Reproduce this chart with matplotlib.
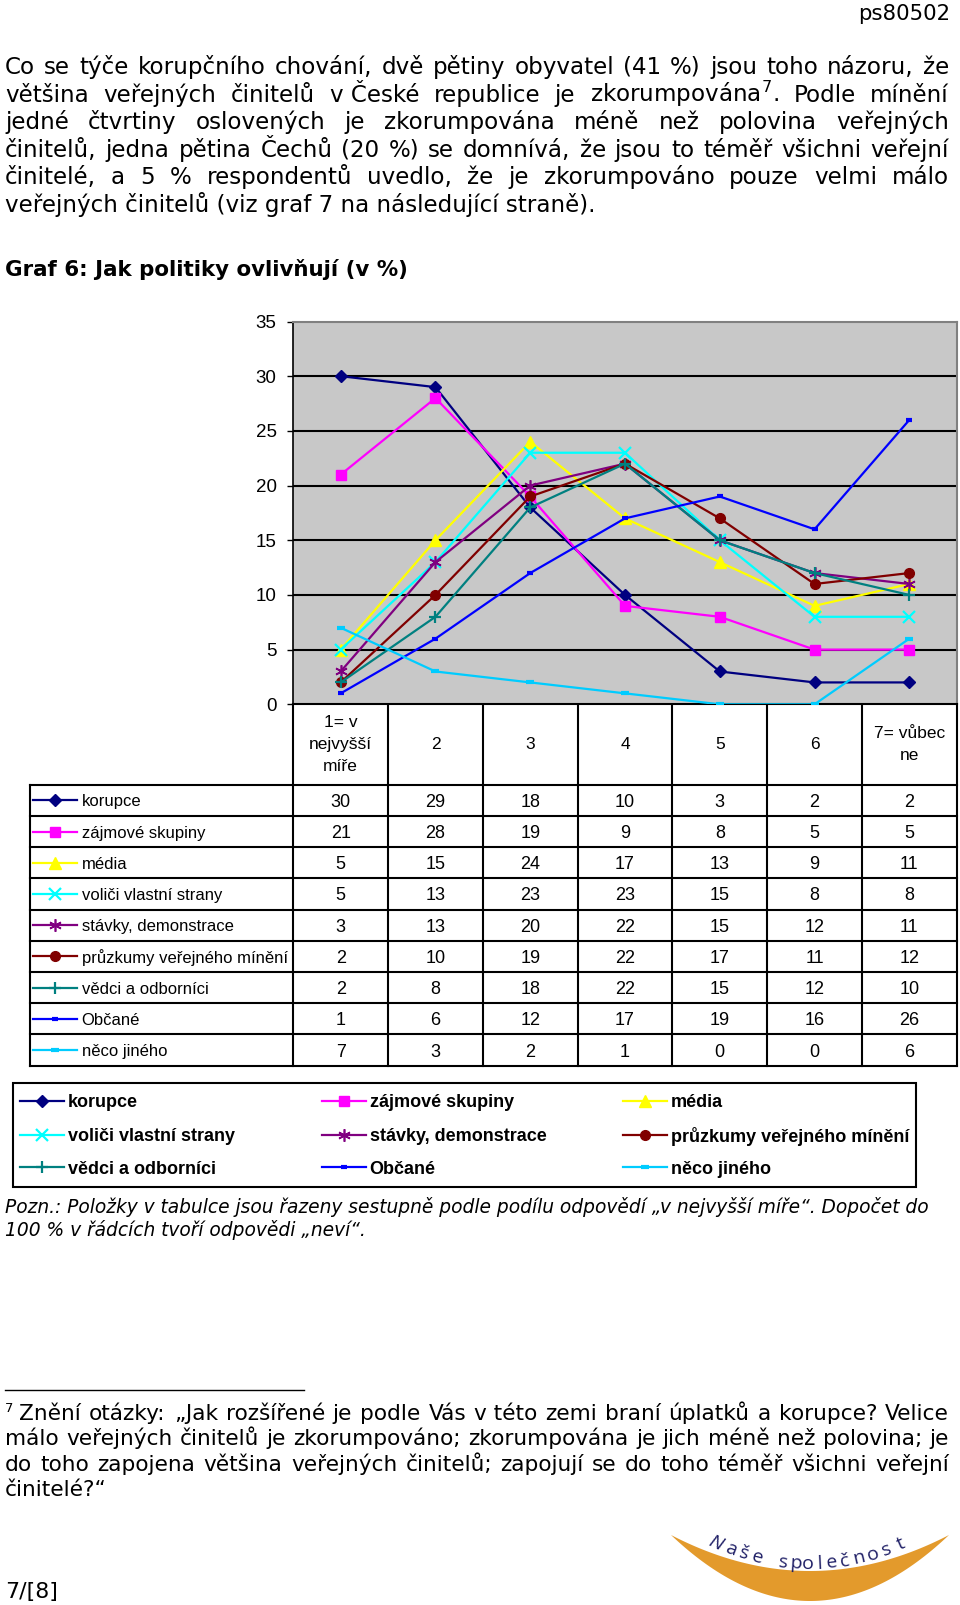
import matplotlib
matplotlib.use('Agg')
import matplotlib.pyplot as plt
from matplotlib.patches import Polygon, Rectangle
import numpy as np

plt.rcParams['font.family'] = ['DejaVu Sans']
plt.rcParams['mathtext.fontset'] = 'dejavusans'

# ---- data ----
categories = ['1= v\nnejvyšší\nmíře', '2', '3', '4', '5', '6', '7= vůbec\nne']
series_names = ['korupce', 'zájmové skupiny', 'média', 'voliči vlastní strany',
                'stávky, demonstrace', 'průzkumy veřejného mínění',
                'vědci a odborníci', 'Občané', 'něco jiného']
korupce = [30, 29, 18, 10, 3, 2, 2]
zajmove_skupiny = [21, 28, 19, 9, 8, 5, 5]
media = [5, 15, 24, 17, 13, 9, 11]
volici = [5, 13, 23, 23, 15, 8, 8]
stavky = [3, 13, 20, 22, 15, 12, 11]
pruzkumy = [2, 10, 19, 22, 17, 11, 12]
vedci = [2, 8, 18, 22, 15, 12, 10]
obcane = [1, 6, 12, 17, 19, 16, 26]
neco_jineho = [7, 3, 2, 1, 0, 0, 6]
values = [korupce, zajmove_skupiny, media, volici, stavky, pruzkumy,
          vedci, obcane, neco_jineho]
y_ticks = [0, 5, 10, 15, 20, 25, 30, 35]

# excel 2003 default series styles
colors = ['#000080', '#FF00FF', '#FFFF00', '#00FFFF', '#800080',
          '#800000', '#008080', '#0000FF', '#00CCFF']
markers = ['D', 's', '^', 'x', (6, 2, 0), 'o', '+', '_', '_']
msizes = [6.5, 7, 8, 8, 9, 7, 9, 5, 6]
mews = [1, 1, 1, 1.6, 1.2, 1, 1.6, 3, 3]

paragraph = [
    'Co se týče korupčního chování, dvě pětiny obyvatel (41 %) jsou toho názoru, že',
    'většina veřejných činitelů v\u00a0České republice je zkorumpována$^{7}$. Podle mínění',
    'jedné čtvrtiny oslovených je zkorumpována méně než polovina veřejných',
    'činitelů, jedna pětina Čechů (20 %) se domnívá, že jsou to téměř všichni veřejní',
    'činitelé, a 5 % respondentů uvedlo, že je zkorumpováno pouze velmi málo',
    'veřejných činitelů (viz graf 7 na následující straně).',
]
footnote = [
    'Znění otázky: „Jak rozšířené je podle Vás v\u00a0této zemi braní úplatků a korupce? Velice',
    'málo veřejných činitelů je zkorumpováno; zkorumpována je jich méně než polovina; je',
    'do toho zapojena většina veřejných činitelů; zapojují se do toho téměř všichni veřejní',
    'činitelé?“',
]
note = [
    'Pozn.: Položky v tabulce jsou řazeny sestupně podle podílu odpovědí „v nejvyšší míře“. Dopočet do',
    '100 % v řádcích tvoří odpovědi „neví“.',
]

W, H = 960, 1605
fig = plt.figure(figsize=(W / 100, H / 100), dpi=100)
page = fig.add_axes([0, 0, 1, 1])
page.set_xlim(0, W)
page.set_ylim(H, 0)
page.axis('off')
renderer = fig.canvas.get_renderer()


def text_w(s, **kw):
    t = page.text(0, 0, s, **kw)
    w = t.get_window_extent(renderer).width
    t.remove()
    return w


def fit_size(s, target, **kw):
    return 20 * target / text_w(s, fontsize=20, **kw)


def justify(line, x0, x1, y, size, **kw):
    words = line.split(' ')
    ws = [text_w(w, fontsize=size, **kw) for w in words]
    gap = (x1 - x0 - sum(ws)) / (len(words) - 1)
    x = x0
    for w, wd in zip(words, ws):
        page.text(x, y, w, fontsize=size, ha='left', va='baseline', **kw)
        x += wd + gap


# ---- header + paragraph ----
page.text(950, 20, 'ps80502', fontsize=fit_size('ps80502', 92), ha='right', va='baseline')

p_size = fit_size(paragraph[-1], 591)
for i, line in enumerate(paragraph):
    y = 74 + 27.6 * i
    if i < len(paragraph) - 1:
        justify(line, 5, 949, y, p_size)
    else:
        page.text(5, y, line, fontsize=p_size, ha='left', va='baseline')

title = 'Graf 6: Jak politiky ovlivňují (v %)'
page.text(5, 276, title, fontsize=fit_size(title, 404, fontweight='bold'),
          fontweight='bold', ha='left', va='baseline')

# ---- chart ----
L, R, T, B = 293.3, 956.7, 321.5, 704.3
ax = fig.add_axes([L / W, 1 - B / H, (R - L) / W, (B - T) / H])
ax.set_facecolor('#c8c8c8')
x = np.arange(len(categories))
for name, vals, c, m, ms, mew in zip(series_names, values, colors, markers, msizes, mews):
    ax.plot(x, vals, color=c, lw=1.6, marker=m, ms=ms, mew=mew, mfc=c, mec=c,
            label=name, zorder=3)
for v in y_ticks[1:-1]:
    ax.axhline(v, color='black', lw=1.5, zorder=1.5)
ax.set_xlim(-0.5, len(categories) - 0.5)
ax.set_ylim(0, 35)
ax.set_xticks([])
ax.set_yticks(y_ticks)
ax.set_yticklabels([str(v) for v in y_ticks], fontfamily='Liberation Sans', fontsize=13.5)
ax.tick_params(axis='y', length=4, width=1, pad=8)
for s in ['top', 'right']:
    ax.spines[s].set_color('#808080')
    ax.spines[s].set_linewidth(1.5)
ax.spines['left'].set_linewidth(1.2)
ax.spines['bottom'].set_linewidth(1.5)

# ---- data table under the chart ----
col_w = (R - L) / len(categories)
row_h = 31.22
tab_top = 784.7
tab_left = 30
tab_bot = tab_top + row_h * len(series_names)
lk = dict(color='black', lw=1.5, solid_capstyle='projecting')
for k in range(len(categories) + 1):
    page.plot([L + k * col_w] * 2, [B, tab_bot], **lk)
page.plot([tab_left] * 2, [tab_top, tab_bot], **lk)
for i in range(len(series_names) + 1):
    page.plot([tab_left, R], [tab_top + i * row_h] * 2, **lk)

for j, cat in enumerate(categories):
    page.text(L + (j + 0.5) * col_w, (B + tab_top) / 2, cat, ha='center', va='center',
              fontfamily='Liberation Sans', fontsize=12.5, linespacing=1.55)


def key(x0, y, i):
    page.plot([x0, x0 + 44], [y, y], color=colors[i], lw=1.6)
    page.plot([x0 + 22], [y], marker=markers[i], ms=msizes[i], mew=mews[i],
              color=colors[i], mfc=colors[i], mec=colors[i])


for i, name in enumerate(series_names):
    yc = tab_top + (i + 0.5) * row_h
    key(33, yc, i)
    page.text(81.5, yc, name, ha='left', va='center_baseline',
              fontfamily='Liberation Sans', fontsize=12)
    for j, v in enumerate(values[i]):
        page.text(L + (j + 0.5) * col_w, yc, str(v), ha='center', va='center_baseline',
                  fontfamily='Liberation Sans', fontsize=13)

# ---- legend box ----
page.add_patch(Rectangle((12.7, 1083), 916 - 12.7, 1187 - 1083, fill=False,
                         ec='black', lw=1.5))
leg_cols = [20, 321.5, 623]
leg_rows = [1100.5, 1134.5, 1167]
for i, name in enumerate(series_names):
    r, c = divmod(i, 3)
    key(leg_cols[c], leg_rows[r], i)
    page.text(leg_cols[c] + 48, leg_rows[r], name, ha='left', va='center_baseline',
              fontfamily='Liberation Sans', fontweight='bold', fontsize=13)

# ---- note under the legend ----
n_size = fit_size(note[1], 361.5, style='italic')
for i, line in enumerate(note):
    page.text(5, 1213 + 22.5 * i, line, fontsize=n_size, style='italic',
              ha='left', va='baseline')

# ---- footnote ----
page.plot([5, 304], [1390, 1390], color='black', lw=1)
f_size = p_size * 0.94
page.text(5, 1412, '7', fontsize=f_size * 0.6, ha='left', va='baseline')
for i, line in enumerate(footnote):
    y = 1420 + 25.3 * i
    x0 = 19.5 if i == 0 else 5
    if i < len(footnote) - 1:
        justify(line, x0, 949, y, f_size)
    else:
        page.text(x0, y, line, fontsize=f_size, ha='left', va='baseline')

page.text(5, 1598, '7/[8]', fontsize=fit_size('7/[8]', 53), ha='left', va='baseline')

# ---- logo "Naše společnost" ----
xs = np.linspace(671, 949, 80)
u = (xs - 810) / 139
outer = 1535 + 66 * (1 - u ** 2)
inner = 1535 + 36 * (1 - u ** 2)
page.add_patch(Polygon(np.column_stack([np.r_[xs, xs[::-1]], np.r_[outer, inner[::-1]]]),
                       closed=True, fc='#E39A2C', ec='none'))
letters = 'Našespolečnost'
lx = [716, 731, 744, 757, 783, 796, 808, 820, 832, 845, 859, 873, 887, 901]
for ch, xl in zip(letters, lx):
    uu = (xl - 810) / 100
    yl = 1540 + 24 * (1 - uu ** 2)
    slope = -24 * 2 * uu / 100
    page.text(xl, yl, ch, fontsize=14, color='#1f1f66', ha='center', va='center',
              rotation=-np.degrees(np.arctan(slope)), rotation_mode='anchor',
              fontfamily='Open Sans', style='italic' if ch == 'N' else 'normal')

fig.savefig('out.png', dpi=100)
